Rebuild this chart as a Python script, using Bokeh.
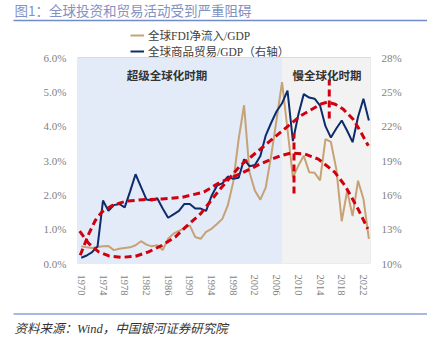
from bokeh.plotting import figure
from bokeh.layouts import column
from bokeh.models import (Range1d, LinearAxis, FixedTicker, PrintfTickFormatter,
                          Legend, LegendItem, Label)
from bokeh.embed import file_html
from bokeh.resources import INLINE
from bokeh.core.properties import value

# ---------------- data ----------------
years = list(range(1970, 2024))
fdi_gdp = [0.50, 0.47, 0.45, 0.48, 0.50, 0.51, 0.39, 0.43, 0.45, 0.47,
           0.53, 0.65, 0.55, 0.50, 0.53, 0.39, 0.72, 0.87, 0.95, 1.03,
           1.11, 0.77, 0.72, 0.92, 1.01, 1.15, 1.30, 1.69, 2.37, 3.62,
           4.61, 2.66, 2.12, 1.86, 2.22, 3.14, 4.20, 5.28, 3.91, 2.51,
           2.85, 3.14, 2.66, 2.64, 2.42, 3.62, 3.54, 2.75, 1.23, 2.12,
           1.38, 2.41, 1.88, 0.72]
trade_gdp = [10.5, 10.7, 11.0, 11.5, 15.5, 14.6, 15.1, 15.2, 14.9, 16.3,
             17.8, 16.7, 15.6, 15.5, 15.7, 14.8, 14.0, 14.3, 14.6, 15.2,
             15.2, 14.8, 14.8, 14.6, 15.9, 16.8, 17.0, 17.6, 17.4, 17.5,
             19.1, 18.5, 18.6, 19.4, 21.2, 22.3, 23.3, 24.0, 25.1, 20.7,
             23.0, 24.8, 24.5, 24.4, 23.8, 22.0, 21.0, 21.8, 22.5, 21.6,
             20.6, 22.8, 24.4, 22.5]

# hand-drawn trend curves (left-axis units)
trendA_x = [1969.7, 1971.4, 1973.2, 1975.1, 1977.5, 1980.0, 1982.4, 1984.9, 1987.3,
            1989.2, 1992.0, 1995.6, 1999.3, 2003.0, 2006.7, 2010.4, 2014.1, 2015.3,
            2016.8, 2018.3, 2020.1, 2021.4, 2022.9]
trendA_y = [0.94, 0.58, 0.34, 0.22, 0.18, 0.21, 0.34, 0.53, 0.77, 1.06, 1.45, 2.17,
            2.85, 3.33, 3.82, 4.30, 4.64, 4.70, 4.64, 4.49, 4.20, 3.86, 3.43]
trendB_x = [1969.8, 1971.4, 1972.6, 1973.8, 1975.7, 1978.1, 1981.2, 1984.9, 1988.6,
            1992.6, 1995.6, 1999.3, 2003.0, 2006.7, 2008.8, 2011.2, 2013.7, 2016.7,
            2018.6, 2021.0, 2022.8]
trendB_y = [0.24, 0.87, 1.26, 1.50, 1.69, 1.81, 1.86, 1.88, 1.93, 2.08, 2.37, 2.61,
            2.90, 3.14, 3.22, 3.19, 3.04, 2.66, 2.27, 1.59, 1.01]
marker_x = [2009.2, 2015.7]
marker_y0 = [2.04, 4.22]
marker_y1 = [3.79, 5.36]

period_start = [1969.3, 2007.0]
period_end = [2007.0, 2023.3]
period_names = ["超级全球化时期", "慢全球化时期"]
period_label_x = [1985.8, 2015.3]

x_ticks = list(range(1970, 2023, 4))
left_ticks = [0, 1, 2, 3, 4, 5, 6]
right_ticks = [10, 13, 16, 19, 22, 25, 28]
left_max, right_min, right_per_left = 6, 10, 3

title_text = "图1：全球投资和贸易活动受到严重阻碍"
source_text = "资料来源：Wind，中国银河证券研究院"
series_names = ["全球FDI净流入/GDP", "全球商品贸易/GDP（右轴）"]

# ---------------- styles / layout ----------------
SERIF = "'Liberation Serif', 'Noto Sans CJK SC'"
SANS = "'Noto Sans CJK SC'"
C_FDI = "#C6A274"
C_TRADE = "#0D2C6C"
C_RED = "#D0000F"
C_TICK = "#7F7F7F"
W = 427
OFFSET = 2                      # page offset of the layout
TOP_H = 24
MAIN_TOP = OFFSET + TOP_H       # page y where main figure starts
MAIN_H = 279
BOT_H = 339 - OFFSET - TOP_H - MAIN_H
FOOT_TOP = MAIN_TOP + MAIN_H
FRAME_TOP = 28 - MAIN_TOP
FRAME_BOT = 265 - MAIN_TOP
BORDER_BOTTOM = MAIN_H - FRAME_BOT


def blank_fig(h):
    f = figure(width=W, height=h, output_backend="svg", toolbar_location=None,
               x_range=Range1d(0, W), y_range=Range1d(h, 0),
               x_axis_location=None, y_axis_location=None,
               min_border=0, min_border_left=0, min_border_right=0,
               min_border_top=0, min_border_bottom=0)
    f.grid.visible = False
    f.outline_line_color = None
    f.background_fill_color = "white"
    f.border_fill_color = "white"
    f.frame_align = False
    return f


# ---- header ----
head = blank_fig(TOP_H)
head.text(x=[14], y=[11 - OFFSET], text=[title_text], text_font=value(SANS),
          text_font_size="13.5px", text_color="#8292C2", text_baseline="middle")
head.segment(x0=[13], y0=[22 - OFFSET], x1=[W], y1=[22 - OFFSET],
             line_color="#6F8BC8", line_width=1.5)

# ---- main chart (frame extended upward to hold the legend) ----
frame_px = FRAME_BOT - FRAME_TOP
px_per_unit = 206 / left_max
ytop = frame_px / px_per_unit
p = figure(width=W, height=MAIN_H, output_backend="svg", toolbar_location=None,
           x_range=Range1d(period_start[0], period_end[-1]), y_range=Range1d(0, ytop),
           min_border_left=77, min_border_right=57, min_border_top=FRAME_TOP,
           min_border_bottom=BORDER_BOTTOM)
p.frame_align = False
p.extra_y_ranges = {"right": Range1d(right_min, right_min + ytop * right_per_left)}
p.background_fill_color = "white"
p.border_fill_color = "white"
p.outline_line_color = None
p.grid.visible = False

p.quad(left=period_start, right=period_end, bottom=0, top=left_max,
       fill_color=["#E2EBF7", "#F2F2F2"], line_color=None)
p.quad(left=[period_start[0]], right=[period_end[-1]], bottom=[0], top=[left_max],
       fill_color=None, line_color="#D9D9D9", line_width=1)

r_fdi = p.line(years, fdi_gdp, color=C_FDI, line_width=2)
r_trade = p.line(years, trade_gdp, color=C_TRADE, line_width=2, y_range_name="right")

p.line(trendA_x, trendA_y, color=C_RED, line_width=3, line_dash="7 4")
p.line(trendB_x, trendB_y, color=C_RED, line_width=3, line_dash="7 4")
p.segment(x0=marker_x, y0=marker_y0, x1=marker_x, y1=marker_y1,
          color=C_RED, line_width=3, line_dash="7 4")

for nm, lx in zip(period_names, period_label_x):
    p.add_layout(Label(x=lx, y=5.5, text=nm, text_align="center", text_baseline="middle",
                       text_font=SANS, text_font_size="11.5px", text_font_style="bold",
                       text_color="#333333"))


def style_axis(ax):
    ax.axis_line_color = None
    ax.major_tick_line_color = None
    ax.minor_tick_line_color = None
    ax.major_label_text_color = C_TICK
    ax.major_label_text_font = SERIF
    ax.major_label_text_font_size = "11px"


p.xaxis.ticker = FixedTicker(ticks=x_ticks)
p.xaxis.major_label_orientation = "vertical"
p.yaxis.ticker = FixedTicker(ticks=left_ticks)
p.yaxis.formatter = PrintfTickFormatter(format="%.1f%%")
ra = LinearAxis(y_range_name="right", ticker=FixedTicker(ticks=right_ticks),
                formatter=PrintfTickFormatter(format="%d%%"))
p.add_layout(ra, "right")
for ax in [p.xaxis[0], p.yaxis[0], ra]:
    style_axis(ax)
p.xaxis.major_label_text_font_size = "10.5px"

legend = Legend(items=[LegendItem(label=series_names[0], renderers=[r_fdi]),
                       LegendItem(label=series_names[1], renderers=[r_trade])],
                location=(53, FRAME_BOT - (61 - MAIN_TOP)), orientation="vertical",
                background_fill_alpha=0, border_line_color=None,
                padding=0, margin=0, spacing=-2, label_standoff=4,
                glyph_width=14, glyph_height=12, label_height=12,
                label_text_font=SERIF, label_text_font_size="11.5px",
                label_text_color="#404040")
p.add_layout(legend, "center")

# ---- footer ----
foot = blank_fig(BOT_H)
foot.segment(x0=[13], y0=[315.5 - FOOT_TOP], x1=[W], y1=[315.5 - FOOT_TOP],
             line_color="#A9B8DC", line_width=2)
foot.text(x=[14], y=[330 - FOOT_TOP], text=[source_text], text_font=value(SERIF),
          text_font_size="12.5px", text_font_style="italic", text_color="#333333",
          text_baseline="middle")

layout = column(head, p, foot, spacing=0)
open("out.html", "w").write(file_html(layout, INLINE))
